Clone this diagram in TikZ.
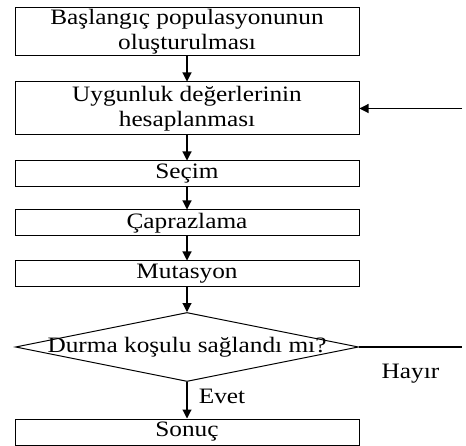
\documentclass[tikz,border=0pt]{standalone}
\usepackage{fontspec}
\setmainfont{Liberation Serif}[FakeStretch=1.15]
\usepackage{tikz}
\usetikzlibrary{arrows.meta,positioning,shapes.geometric}

\begin{document}
\begin{tikzpicture}[x=1pt, y=-1pt,
          every node/.style={font=\fontsize{22}{25}\selectfont},
          box/.style={draw, line width=1pt, minimum width=344pt,
                      align=center, inner sep=0pt},
          cond/.style={draw, diamond, line width=1pt, aspect=5,
                       minimum width=343pt, minimum height=69pt, inner sep=0pt},
          arr/.style={-{Triangle[length=9pt, width=9pt]}, line width=1.1pt}
      ]
        \useasboundingbox (0,0) rectangle (466,446);

        \node[box, minimum height=48pt] (init) at (187, 32)
              {Başlangıç populasyonunun \\ oluşturulması};

        \node[box, minimum height=53pt] (fit) at (187, 108.5)
              {Uygunluk değerlerinin \\ hesaplanması};

        \node[box, minimum height=26pt] (sel) at (187, 174) {Seçim};

        \node[box, minimum height=26pt] (cross) at (187, 223) {Çaprazlama};

        \node[box, minimum height=26pt] (mut) at (187, 274) {Mutasyon};

        \node[cond] (stop) at (187, 347)
              {\makebox[0pt]{Durma koşulu sağlandı mı?}};

        \node[box, minimum height=26pt] (result) at (187, 432) {Sonuç};

        \coordinate (back1) at (462, 347);
        \coordinate (back2) at (462, 108.5);

        \draw[arr] (init)  -- (fit);
        \draw[arr] (fit)   -- (sel);
        \draw[arr] (sel)   -- (cross);
        \draw[arr] (cross) -- (mut);
        \draw[arr] (mut)   -- (stop);
        \draw[arr] (stop)  -- node[right=8pt, pos=0.4] (yes) {Evet} (result);
        \draw[line width=1.1pt] (stop.east) -- node[below=13pt] (no) {Hayır} (back1);
        \draw[arr] (back2) -- (fit.east);
      \end{tikzpicture}
\end{document}
